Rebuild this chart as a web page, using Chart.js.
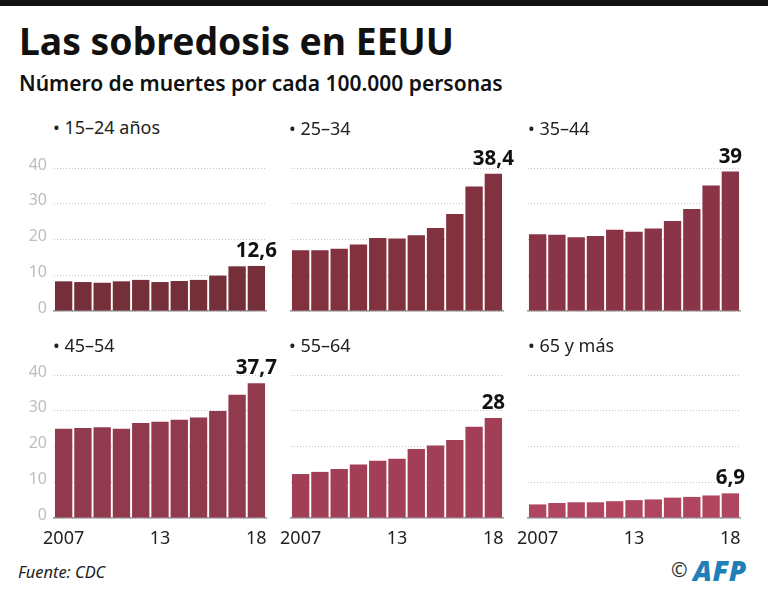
<!DOCTYPE html>
<html>
<head>
<meta charset="utf-8">
<title>Las sobredosis en EEUU</title>
<script src="https://cdn.jsdelivr.net/npm/chart.js@4"></script>
<style>
    html, body { margin: 0; padding: 0; background: #fff; }
    #page { position: relative; width: 768px; height: 596px; overflow: hidden; font-family: "Noto Sans", sans-serif; color: #111; }
    #topbar { position: absolute; left: 0; top: 0; width: 768px; height: 6px; background: #111; }
    #title { position: absolute; left: 19px; top: 15px; font-size: 37.3px; font-weight: 700; line-height: 52px; white-space: nowrap; }
    #subtitle { position: absolute; left: 19px; top: 69px; font-size: 21px; font-weight: 600; line-height: 28px; white-space: nowrap; }
    canvas { position: absolute; }
    .panel-title { position: absolute; font-size: 18px; line-height: 24px; white-space: nowrap; color: #222; }
    #source { position: absolute; left: 18px; top: 561px; font-size: 16.4px; font-style: italic; line-height: 22px; color: #222; }
    #copy { position: absolute; left: 671px; top: 557px; font-size: 20px; line-height: 26px; color: #333; }
    #afp { position: absolute; left: 693px; top: 552px; font-size: 28px; font-weight: 900; font-style: italic; line-height: 36px; letter-spacing: 0.5px; color: #1f7fb8; }
</style>
</head>
<body>
<div id="page">
    <div id="topbar"></div>
    <div id="title">Las sobredosis en EEUU</div>
    <div id="subtitle">Número de muertes por cada 100.000 personas</div>
    <div id="source">Fuente: CDC</div>
    <div id="copy">©</div>
    <div id="afp">AFP</div>
</div>
<script>
// Tick labels as printed on the reference
const categories = ['2007', '', '', '', '', '13', '', '', '', '', '18'];

// Deaths per 100,000
const ages15to24 = [8.3, 8.1, 7.9, 8.3, 8.7, 8.1, 8.4, 8.7, 9.9, 12.5, 12.6];
const ages25to34 = [17.0, 17.0, 17.4, 18.6, 20.4, 20.3, 21.2, 23.2, 27.1, 34.8, 38.4];
const ages35to44 = [21.5, 21.3, 20.6, 21.0, 22.7, 22.2, 23.1, 25.2, 28.5, 35.1, 39];
const ages45to54 = [25.0, 25.2, 25.4, 25.0, 26.6, 26.9, 27.5, 28.1, 29.9, 34.5, 37.7];
const ages55to64 = [12.3, 12.9, 13.7, 15.0, 16.0, 16.6, 19.3, 20.3, 21.8, 25.5, 28];
const ages65plus = [3.8, 4.2, 4.4, 4.4, 4.7, 5.0, 5.2, 5.7, 5.9, 6.3, 6.9];

const yTicks = [0, 10, 20, 30, 40];

const AXIS_W = 40;    // room left of the plot
const PAD_TOP = 25;   // room above the 40 line
const XAXIS_H = 32;
const PLOT_W = 212;
const PLOT_H = 143;

const panels = [
    { name: '15–24 años', data: ages15to24, color: '#752f39', left: 54.4,  top: 143, yLabels: true,  xLabels: false, titleX: 53,  titleY: 115 },
    { name: '25–34',      data: ages25to34, color: '#82323f', left: 291.4, top: 143, yLabels: false, xLabels: false, titleX: 289, titleY: 116 },
    { name: '35–44',      data: ages35to44, color: '#8a3547', left: 528,   top: 143, yLabels: false, xLabels: false, titleX: 528, titleY: 116 },
    { name: '45–54',      data: ages45to54, color: '#913a4e', left: 54.4,  top: 350, yLabels: true,  xLabels: true,  titleX: 53,  titleY: 333 },
    { name: '55–64',      data: ages55to64, color: '#a23f57', left: 291.4, top: 350, yLabels: false, xLabels: true,  titleX: 289, titleY: 333 },
    { name: '65 y más',   data: ages65plus, color: '#b04560', left: 527.7, top: 350, yLabels: false, xLabels: true,  titleX: 528, titleY: 333 }
];

// Bold value over the last bar
const lastValueLabel = {
    id: 'lastValueLabel',
    afterDatasetsDraw(chart) {
        const values = chart.data.datasets[0].data;
        const bar = chart.getDatasetMeta(0).data[values.length - 1];
        const ctx = chart.ctx;
        ctx.save();
        ctx.font = '700 20.5px "Noto Sans"';
        ctx.fillStyle = '#111';
        ctx.textAlign = 'center';
        ctx.textBaseline = 'alphabetic';
        ctx.fillText(String(values[values.length - 1]).replace('.', ','), bar.x, bar.y - 9);
        ctx.restore();
    }
};

function renderPanel(panel) {
    const page = document.getElementById('page');

    const label = document.createElement('div');
    label.className = 'panel-title';
    label.style.left = panel.titleX + 'px';
    label.style.top = panel.titleY + 'px';
    label.textContent = '• ' + panel.name;

    const canvas = document.createElement('canvas');
    canvas.width = AXIS_W + PLOT_W + 12;
    canvas.height = PAD_TOP + PLOT_H + XAXIS_H;
    canvas.style.left = (panel.left - AXIS_W) + 'px';
    canvas.style.top = panel.top + 'px';
    page.appendChild(canvas);
    page.appendChild(label);

    new Chart(canvas.getContext('2d'), {
        type: 'bar',
        data: {
            labels: categories,
            datasets: [{
                data: panel.data,
                backgroundColor: panel.color,
                barPercentage: 0.9,
                categoryPercentage: 1
            }]
        },
        options: {
            responsive: false,
            animation: false,
            layout: { padding: { top: PAD_TOP, right: 12, left: 0, bottom: 0 } },
            plugins: { legend: { display: false }, tooltip: { enabled: false } },
            scales: {
                x: {
                    afterFit: scale => { scale.height = XAXIS_H; },
                    grid: { display: false },
                    border: { display: true, color: '#9a9a9a', width: 1.5 },
                    ticks: {
                        display: panel.xLabels,
                        autoSkip: false,
                        maxRotation: 0,
                        padding: 2,
                        color: '#222',
                        font: { family: 'Noto Sans', size: 18 }
                    }
                },
                y: {
                    min: 0,
                    max: 40,
                    afterFit: scale => { scale.width = AXIS_W; },
                    afterBuildTicks: scale => { scale.ticks = yTicks.map(value => ({ value })); },
                    grid: { color: '#c4c4c4', drawTicks: false },
                    border: { display: false, dash: [1, 2] },
                    ticks: {
                        display: panel.yLabels,
                        padding: 7,
                        labelOffset: -3,
                        color: '#bdbdbd',
                        font: { family: 'Noto Sans', size: 16 }
                    }
                }
            }
        },
        plugins: [lastValueLabel]
    });
}

panels.forEach(renderPanel);
</script>
</body>
</html>
